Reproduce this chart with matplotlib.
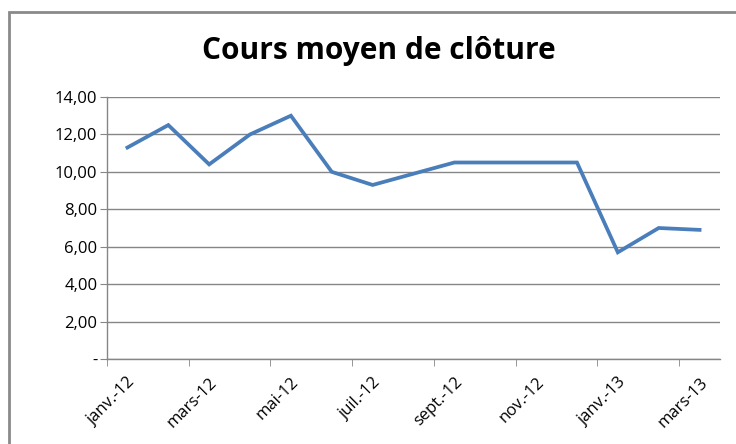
import matplotlib.pyplot as plt
import numpy as np
from matplotlib.patches import Rectangle

# Data
months = ['janv.-12', 'févr.-12', 'mars-12', 'avr.-12', 'mai-12', 'juin-12', 'juil.-12',
          'août-12', 'sept.-12', 'oct.-12', 'nov.-12', 'déc.-12', 'janv.-13', 'févr.-13', 'mars-13']
cours = [11.3, 12.5, 10.4, 12.0, 13.0, 10.0, 9.3, 9.9, 10.5, 10.5, 10.5, 10.5, 5.7, 7.0, 6.9]
y_ticks = [0, 2, 4, 6, 8, 10, 12, 14]

grey = '#868686'

fig = plt.figure(figsize=(7.36, 4.44), dpi=100)
ax = fig.add_axes([107/736, 1 - 359/444, (720 - 107)/736, (359 - 97)/444])

x = np.arange(len(months))
ax.plot(x, cours, color='#4A7EBB', linewidth=2.7, solid_joinstyle='miter')

# y axis
ax.set_ylim(0, 14)
ax.set_yticks(y_ticks)
ax.set_yticklabels(['-' if v == 0 else '{:.2f}'.format(v).replace('.', ',') for v in y_ticks],
                   fontsize=12, family='Open Sans')
ax.grid(axis='y', color=grey, linewidth=1)
ax.set_axisbelow(True)

# x axis: labels every 2 months, tick marks between categories
ax.set_xlim(-0.5, len(months) - 0.5)
ax.set_xticks(x[::2])
ax.set_xticklabels(months[::2], rotation=45, ha='right', rotation_mode='anchor',
                   fontsize=12, family='Open Sans')
ax.set_xticks(np.arange(-0.5, len(months) - 1, 2), minor=True)
ax.tick_params(axis='x', which='major', length=0, pad=11)
ax.tick_params(axis='x', which='minor', length=5, color=grey, direction='out')
ax.tick_params(axis='y', length=5, color=grey, direction='out', pad=2)

for side in ['top', 'right']:
    ax.spines[side].set_visible(False)
for side in ['left', 'bottom']:
    ax.spines[side].set_color(grey)
    ax.spines[side].set_linewidth(1)

fig.text(379/736, 1 - 51/444, 'Cours moyen de clôture', ha='center', va='center',
         fontsize=21.5, fontweight='bold', family='Open Sans')

# chart border
fig.patches.append(Rectangle((9/736, -0.1), 1.1, 1.1 - 12/444, transform=fig.transFigure,
                             fill=False, edgecolor='#8a8a8a', linewidth=2))

fig.savefig('out.png', dpi=100)
